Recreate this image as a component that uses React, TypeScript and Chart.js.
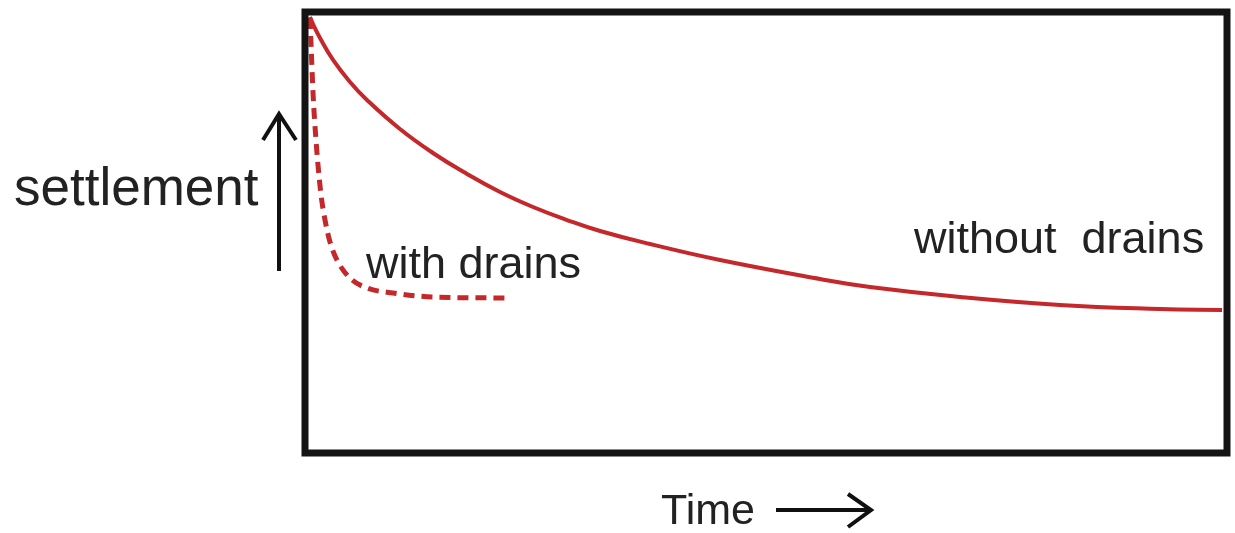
import React, { useEffect, useRef } from "react";
import { Chart, registerables } from "chart.js";

Chart.register(...registerables);

// Time (0–100 across the box) and settlement (0 at top, 100 at bottom of box)
const withoutDrainsTime = [0.54, 0.87, 1.63, 3.04, 4.88, 6.72, 10.3, 13.88, 17.57, 21.15, 24.73, 28.42, 32.0, 37.42, 45.01, 55.86, 61.28, 71.04, 81.89, 92.73, 99.46];
const withoutDrainsSettlement = [1.13, 2.72, 5.9, 10.88, 15.87, 19.95, 26.53, 31.97, 36.73, 40.82, 44.22, 47.17, 49.66, 52.61, 56.24, 60.54, 62.36, 64.63, 66.44, 67.35, 67.57];

const withDrainsTime = [0.54, 0.65, 0.87, 1.19, 1.41, 1.74, 2.17, 2.71, 3.47, 4.88, 6.72, 9.54, 13.88, 21.69];
const withDrainsSettlement = [1.36, 7.03, 18.37, 29.02, 34.69, 41.5, 47.17, 52.15, 56.24, 60.32, 62.59, 63.72, 64.63, 64.85];

const yAxisLabel = "settlement";
const xAxisLabel = "Time";
const withDrainsLabel = "with drains";
const withoutDrainsLabel = "without  drains";

const RED = "#c4282b";
const INK = "#222222";

const toPoints = (xs: number[], ys: number[]) => xs.map((x, i) => ({ x, y: ys[i] }));

const decorPlugin = {
  id: "decor",
  afterDraw(chart: any) {
    const { ctx, chartArea } = chart;
    ctx.save();
    // frame
    ctx.strokeStyle = "#141414";
    ctx.lineWidth = 7;
    ctx.strokeRect(chartArea.left, chartArea.top, chartArea.right - chartArea.left, chartArea.bottom - chartArea.top);

    // texts
    ctx.fillStyle = INK;
    ctx.textBaseline = "alphabetic";
    ctx.textAlign = "left";
    ctx.font = "53px 'Liberation Sans', Arial, sans-serif";
    ctx.fillText(yAxisLabel, 14, 205);
    ctx.font = "45px 'Liberation Sans', Arial, sans-serif";
    ctx.fillText(withDrainsLabel, 366, 278);
    ctx.fillText(withoutDrainsLabel, 914, 253);
    ctx.font = "43px 'Liberation Sans', Arial, sans-serif";
    ctx.fillText(xAxisLabel, 661, 524);

    // arrows
    ctx.strokeStyle = "#111111";
    ctx.lineWidth = 4;
    ctx.lineCap = "butt";
    ctx.lineJoin = "miter";
    // up arrow
    ctx.beginPath();
    ctx.moveTo(279, 271);
    ctx.lineTo(279, 114);
    ctx.stroke();
    ctx.beginPath();
    ctx.moveTo(263, 140);
    ctx.lineTo(279, 114);
    ctx.lineTo(296, 140);
    ctx.stroke();
    // right arrow
    ctx.beginPath();
    ctx.moveTo(776, 510);
    ctx.lineTo(870, 510);
    ctx.stroke();
    ctx.beginPath();
    ctx.moveTo(848, 494);
    ctx.lineTo(871, 510);
    ctx.lineTo(848, 527);
    ctx.stroke();
    ctx.restore();
  },
};

export default function App() {
  const ref = useRef<HTMLCanvasElement>(null);

  useEffect(() => {
    if (!ref.current) return;
    const chart = new Chart(ref.current, {
      type: "line",
      data: {
        datasets: [
          {
            label: "without drains",
            data: toPoints(withoutDrainsTime, withoutDrainsSettlement),
            borderColor: RED,
            borderWidth: 4,
            pointRadius: 0,
            tension: 0.45,
            fill: false,
          },
          {
            label: "with drains",
            data: toPoints(withDrainsTime, withDrainsSettlement),
            borderColor: RED,
            borderWidth: 5,
            borderDash: [11, 7],
            pointRadius: 0,
            cubicInterpolationMode: "monotone",
            fill: false,
          },
        ],
      },
      options: {
        animation: false,
        responsive: false,
        layout: { padding: { left: 305, right: 8, top: 12, bottom: 80 } },
        scales: {
          x: { type: "linear", min: 0, max: 100, display: false },
          y: { type: "linear", min: 0, max: 100, reverse: true, display: false },
        },
        plugins: { legend: { display: false }, tooltip: { enabled: false } },
      },
      plugins: [decorPlugin],
    });
    return () => chart.destroy();
  }, []);

  return (
    <div style={{ position: "absolute", left: 0, top: 0, width: 1235, height: 533, background: "#fff" }}>
      <canvas ref={ref} width={1235} height={533} style={{ display: "block" }} />
    </div>
  );
}
